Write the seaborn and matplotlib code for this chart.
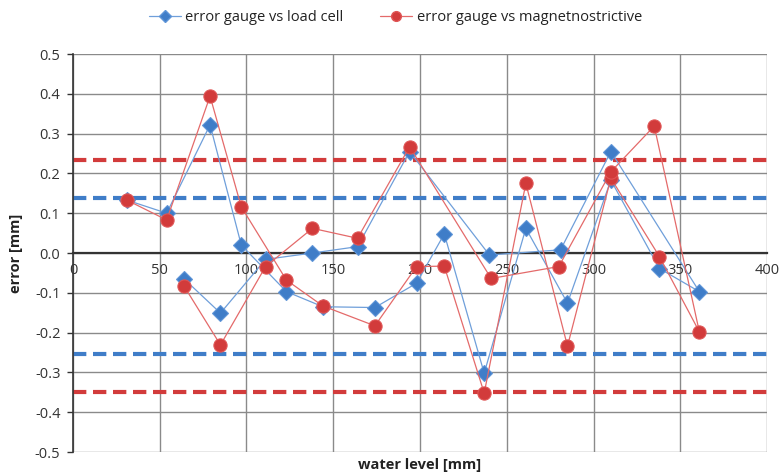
import numpy as np
import pandas as pd
import seaborn as sns
import matplotlib.pyplot as plt
from matplotlib.lines import Line2D

plt.switch_backend('agg')

# measurement order (level goes up, then back down)
load_level = [31, 54, 79, 97, 123, 144, 174, 198, 214, 237, 261, 285, 310, 338, 361,
              310, 281, 240, 194, 164, 138, 111, 85, 64]
load_error = [0.133, 0.100, 0.322, 0.020, -0.097, -0.135, -0.137, -0.076, 0.048, -0.302,
              0.062, -0.126, 0.183, -0.039, -0.097, 0.255, 0.008, -0.005, 0.255, 0.016,
              0.000, -0.016, -0.151, -0.065]

mag_level = [31, 54, 79, 97, 123, 144, 174, 198, 214, 237, 261, 285, 310, 338, 361,
             335, 310, 280, 241, 194, 164, 138, 111, 85, 64]
mag_error = [0.133, 0.083, 0.394, 0.116, -0.068, -0.133, -0.183, -0.034, -0.033, -0.352,
             0.175, -0.234, 0.188, -0.009, -0.198, 0.319, 0.204, -0.034, -0.064, 0.267,
             0.037, 0.062, -0.034, -0.231, -0.083]

# limits drawn as dashed lines
load_limits = [0.138, -0.253]
mag_limits = [0.233, -0.348]

blue = "#3F7DC8"
blue_line = "#6F9FDA"
red = "#D23B3B"
red_line = "#E46A6A"

label_load = "error gauge vs load cell"
label_mag = "error gauge vs magnetnostrictive"

df_load = pd.DataFrame({"level": load_level, "error": load_error})
df_mag = pd.DataFrame({"level": mag_level, "error": mag_error})

sns.set_style("white")
plt.rcParams['font.family'] = ['Open Sans', 'DejaVu Sans']

fig = plt.figure(figsize=(7.83, 4.75), dpi=100)
ax = fig.add_axes([0.0932, 0.0484, 0.8864, 0.8379])

for y in load_limits:
    ax.axhline(y, color=blue, linestyle=(0, (3.2, 1.6)), linewidth=3, zorder=1)
for y in mag_limits:
    ax.axhline(y, color=red, linestyle=(0, (3.2, 1.6)), linewidth=3, zorder=1)

# estimator=None keeps repeated levels as separate points
sns.lineplot(data=df_load, x="level", y="error", sort=False, estimator=None, ax=ax,
             color=blue_line, linewidth=0.9, marker="D", markersize=8,
             markerfacecolor=blue, markeredgecolor="#5F95D8", markeredgewidth=0.8,
             zorder=3)
sns.lineplot(data=df_mag, x="level", y="error", sort=False, estimator=None, ax=ax,
             color=red_line, linewidth=0.9, marker="o", markersize=9.5,
             markerfacecolor=red, markeredgecolor="#E05555", markeredgewidth=0.8,
             zorder=4)

yticks = np.round(np.arange(-0.5, 0.51, 0.1), 1)
ax.set_xlim(0, 400)
ax.set_ylim(-0.5, 0.5)
ax.set_xticks(np.arange(0, 401, 50))
ax.set_yticks(yticks)
ax.set_yticklabels([f"{v + 0.0:.1f}" if v != 0 else "0.0" for v in yticks])

ax.grid(True, color="#8A8A8A", linewidth=1.0, zorder=0)
ax.set_axisbelow(True)

for side in ["top", "right"]:
    ax.spines[side].set_visible(False)
ax.spines["bottom"].set_position(("data", 0))
ax.spines["bottom"].set_color("#333333")
ax.spines["bottom"].set_linewidth(1.6)
ax.spines["left"].set_color("#333333")
ax.spines["left"].set_linewidth(1.2)

ax.tick_params(axis="x", direction="out", length=4, width=1, color="#333333",
               labelsize=10.5, labelcolor="#333333", pad=3)
ax.tick_params(axis="y", direction="out", length=4, width=1, color="#333333",
               labelsize=10.5, labelcolor="#333333", pad=5, left=True)

ax.set_xlabel("water level [mm]", fontsize=10.5, fontweight="bold", color="#222222")
ax.xaxis.set_label_coords(0.5, -0.014)
ax.set_ylabel("error [mm]", fontsize=10.5, fontweight="bold", color="#222222")
ax.yaxis.set_label_coords(-0.072, 0.5)

handles = [
    Line2D([0], [0], color=blue_line, linewidth=0.9, marker="D", markersize=6,
           markerfacecolor=blue, markeredgecolor="#5F95D8", label=label_load),
    Line2D([0], [0], color=red_line, linewidth=0.9, marker="o", markersize=7,
           markerfacecolor=red, markeredgecolor="#E05555", label=label_mag),
]
fig.legend(handles=handles, loc="center", bbox_to_anchor=(0.505, 0.963), ncol=2,
           frameon=False, fontsize=10.5, handlelength=2.2, columnspacing=2.5,
           handletextpad=0.3, labelcolor="#222222")

plt.savefig("out.png", dpi=100)
